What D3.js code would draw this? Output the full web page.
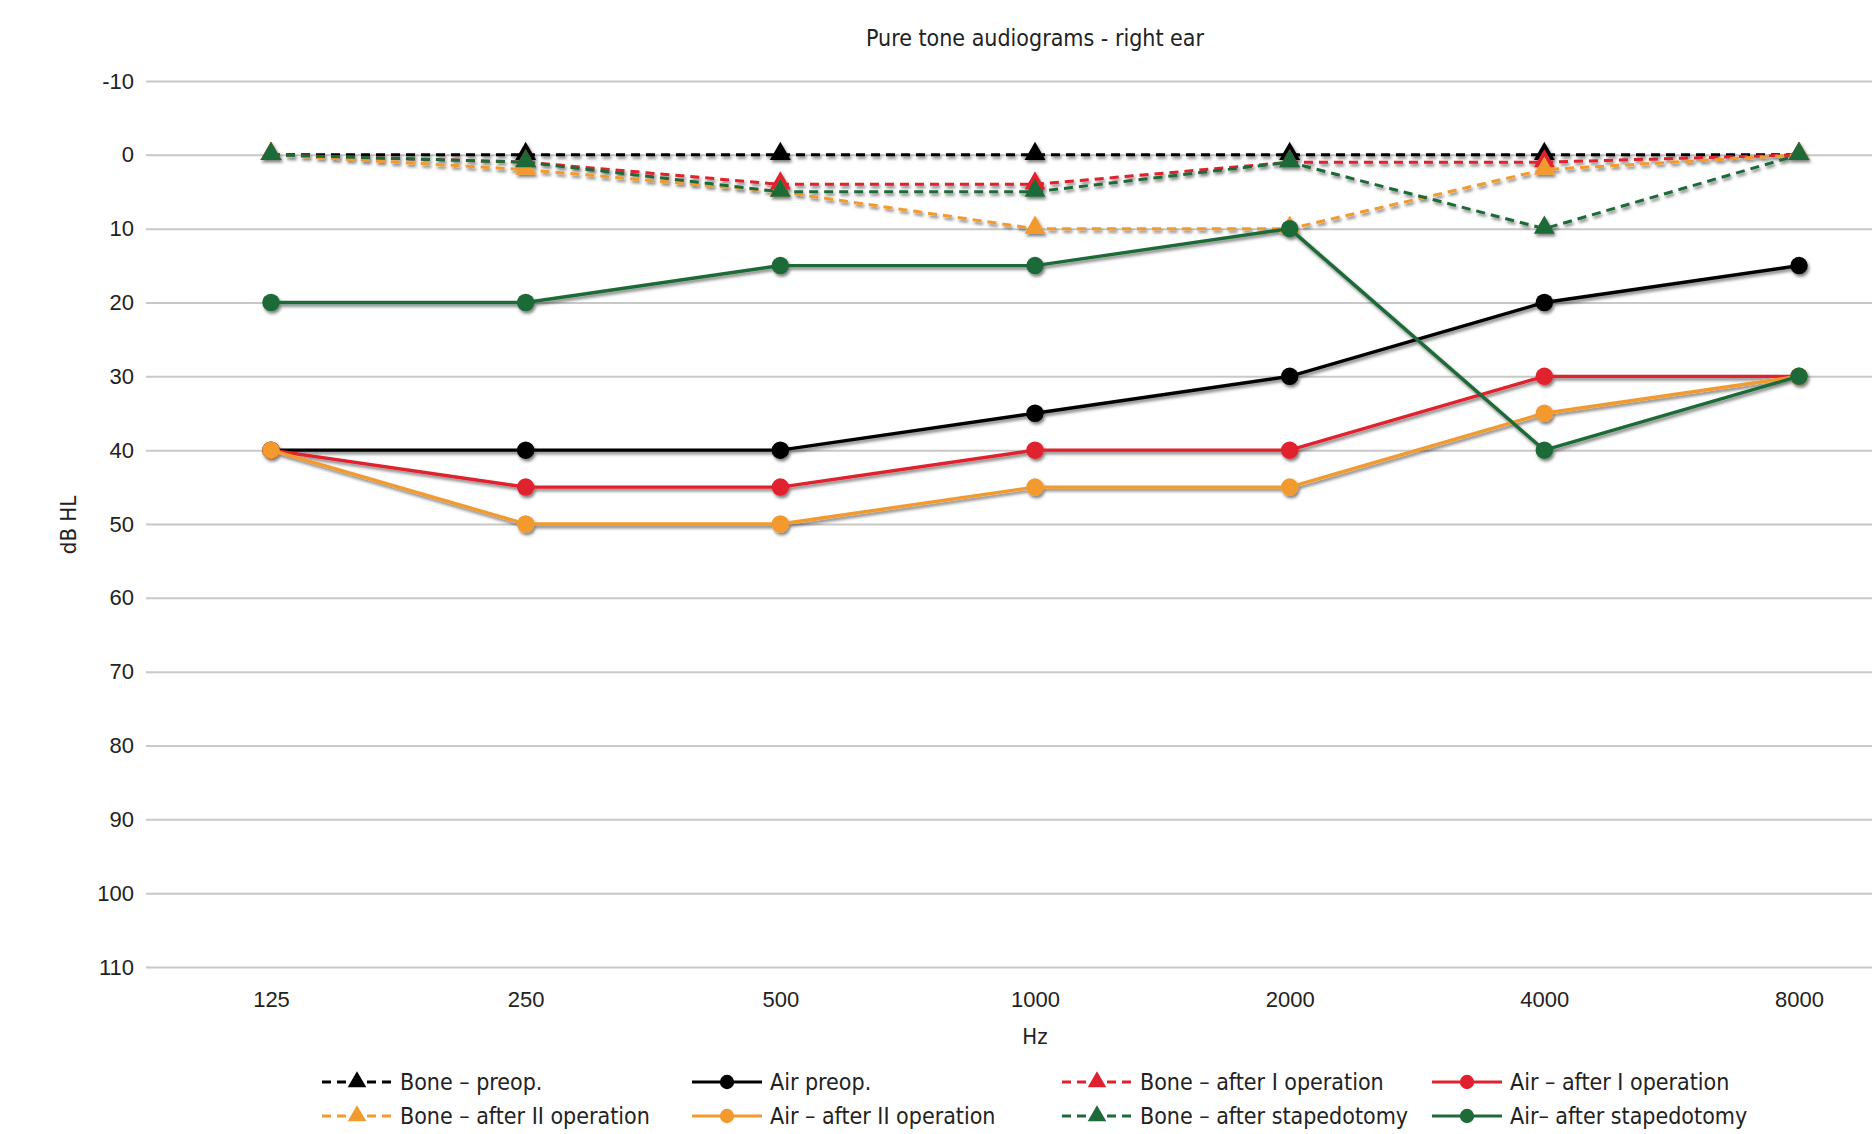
<!DOCTYPE html>
<html><head><meta charset="utf-8">
<script src="https://cdn.jsdelivr.net/npm/d3@7"></script>
<style>
html,body{margin:0;padding:0;background:#fff;}
svg{display:block;font-family:"Liberation Sans Narrow","DejaVu Sans Condensed","Liberation Sans",sans-serif;}
</style></head>
<body>
<svg id="chart" width="1872" height="1134"></svg>
<script>
const title = "Pure tone audiograms - right ear";
const freqs = ["125","250","500","1000","2000","4000","8000"];
const yTicks = [-10,0,10,20,30,40,50,60,70,80,90,100,110];
const bonePreop   = [0,0,0,0,0,0,0];
const airPreop    = [40,40,40,35,30,20,15];
const boneAfterI  = [0,1,4,4,1,1,0];
const airAfterI   = [40,45,45,40,40,30,30];
const boneAfterII = [0,2,5,10,10,2,0];
const airAfterII  = [40,50,50,45,45,35,30];
const boneStap    = [0,1,5,5,1,10,0];
const airStap     = [20,20,15,15,10,40,30];

const seriesNames = ["Bone \u2013 preop.","Air preop.","Bone \u2013 after I operation","Air \u2013 after I operation",
  "Bone \u2013 after II operation","Air \u2013 after II operation","Bone \u2013 after stapedotomy","Air\u2013 after stapedotomy"];
const seriesValues = [bonePreop,airPreop,boneAfterI,airAfterI,boneAfterII,airAfterII,boneStap,airStap];
const seriesColors = ["#000000","#000000","#e0202e","#e0202e","#f29a2e","#f29a2e","#1e6a38","#1e6a38"];
const seriesType = ["bone","air","bone","air","bone","air","bone","air"];

const series = seriesNames.map((n,i)=>({name:n, values:seriesValues[i], color:seriesColors[i], type:seriesType[i]}));

const svg = d3.select("#chart");
const gridLeft = 146, gridRight = 1872;
const y = d3.scaleLinear().domain([-10,110]).range([81,967]);
const x = d3.scalePoint().domain(freqs).range([271,1799]);

const defs = svg.append("defs");
const f = defs.append("filter").attr("id","shadow").attr("x","-50%").attr("y","-50%").attr("width","200%").attr("height","200%");
f.append("feDropShadow").attr("dx",1.5).attr("dy",2.5).attr("stdDeviation",1.8).attr("flood-color","#000").attr("flood-opacity",0.5);

// title
svg.append("text").attr("x",1035).attr("y",46).attr("text-anchor","middle")
  .attr("font-size",23).attr("fill","#222").text(title);

// y axis with gridlines
const yAxis = svg.append("g").attr("transform",`translate(${gridLeft},0)`)
  .call(d3.axisLeft(y).tickValues(yTicks).tickSize(-(gridRight-gridLeft)).tickPadding(12).tickFormat(d=>String(d)));
yAxis.select(".domain").remove();
yAxis.selectAll(".tick line").attr("stroke","#c8c8c8").attr("stroke-width",2);
yAxis.selectAll(".tick text").attr("font-size",22).attr("fill","#222").attr("font-family",null);

// x axis
const xAxis = svg.append("g").attr("transform",`translate(0,${y(110)})`)
  .call(d3.axisBottom(x).tickSize(0).tickPadding(24));
xAxis.select(".domain").remove();
xAxis.selectAll(".tick text").attr("font-size",22).attr("fill","#222").attr("font-family",null);

// axis titles
svg.append("text").attr("x",1035).attr("y",1044).attr("text-anchor","middle").attr("font-size",22).attr("fill","#222").text("Hz");
svg.append("text").attr("transform","translate(76,525) rotate(-90)").attr("text-anchor","middle").attr("font-size",22).attr("fill","#222").text("dB HL");

const line = d3.line().x((d,i)=>x(freqs[i])).y(d=>y(d));
const tri = d3.symbol().type(d3.symbolTriangle).size(190);
const circ = d3.symbol().type(d3.symbolCircle).size(240);

const plot = svg.append("g").attr("filter","url(#shadow)");
series.forEach(s=>{
  const g = plot.append("g");
  g.append("path").datum(s.values).attr("d",line).attr("fill","none")
    .attr("stroke",s.color).attr("stroke-width",s.type==="bone"?3:3.4)
    .attr("stroke-dasharray",s.type==="bone"?"9,6":null);
  g.selectAll("path.m").data(s.values).join("path").attr("class","m")
    .attr("d",s.type==="bone"?tri():circ())
    .attr("transform",(d,i)=>`translate(${x(freqs[i])},${y(d)+(s.type==="bone"?-1:0)})`)
    .attr("fill",s.color);
});

// legend
const legCols = [322,692,1062,1432];
const legRows = [1082,1116];
const legLineLen = 70;
const leg = svg.append("g");
series.forEach((s,i)=>{
  const lx = legCols[i%4], ly = legRows[Math.floor(i/4)];
  const g = leg.append("g").attr("transform",`translate(${lx},${ly})`);
  g.append("line").attr("x1",0).attr("x2",legLineLen).attr("y1",0).attr("y2",0)
    .attr("stroke",s.color).attr("stroke-width",3.2).attr("stroke-dasharray",s.type==="bone"?"9,6":null);
  g.append("path").attr("d",s.type==="bone"?d3.symbol().type(d3.symbolTriangle).size(150)():d3.symbol().type(d3.symbolCircle).size(160)())
    .attr("transform",`translate(${legLineLen/2},0)`).attr("fill",s.color);
  g.append("text").attr("x",legLineLen+8).attr("y",0).attr("dy","0.35em").attr("font-size",23).attr("fill","#222").text(s.name);
});
</script>
</body></html>
